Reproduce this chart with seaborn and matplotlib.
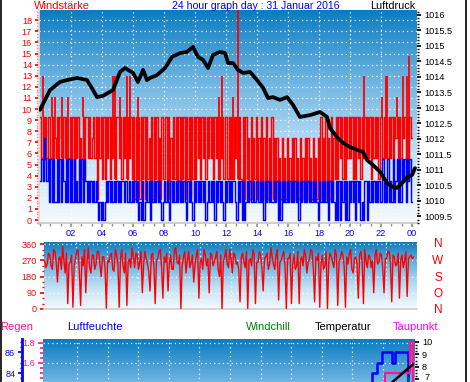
import numpy as np
import matplotlib
matplotlib.use("Agg")
import matplotlib.pyplot as plt
import seaborn as sns
from matplotlib.colors import LinearSegmentedColormap
from matplotlib.ticker import MultipleLocator

# ---------------- data ----------------
# wind speed levels (km/h steps) and 5-minute level codes, one string per hour
red_levels = [0, 1.85, 3.7, 5.55, 7.4, 9.25, 11.1, 12.95, 14.8]
blue_levels = [0, 1.6, 3.55, 5.5, 7.4]
gust_codes = ["535453553534", "353543535335", "352535342535", "535345351535",
              "252535253525", "535253525352", "515251525152", "415152514152",
              "251514252515", "152515251525", "253525352535", "352535253525",
              "525252535252", "151524151425", "141514151415", "141413141314",
              "131414131413", "141413141314", "151415141514", "252535252535",
              "352525352535", "353525353525", "535353535354", "535354535354"]
wind_codes = ["232432313131", "131313213131", "313121313132", "121212121010",
              "101212121212", "121221211212", "121201020121", "202121212101",
              "212102121212", "121210212102", "121212120121", "212021212102",
              "121212210212", "020121211212", "212120212121", "121202021212",
              "121212120212", "121212121210", "212121202121", "020202120202",
              "121202120102", "202121212121", "131213121312", "313132313231"]
gust_spike_h = [0.19, 0.77, 0.97, 1.42, 1.8, 2.77, 4.74, 4.87, 5.16, 5.6, 5.8, 6.3, 11.55, 11.74,
                12.45, 12.77, 20.9, 22.06, 22.3, 22.4, 23.03, 23.4, 23.65, 23.8]
gust_spike_v = [12.95, 11.1, 11.1, 11.1, 11.1, 11.1, 12.95, 12.95, 11.1, 12.95, 12.95, 11.1, 11.1,
                12.95, 11.1, 19.5, 12.95, 11.1, 12.95, 12.95, 11.1, 12.95, 12.95, 14.8]

# air pressure (hour, hPa)
p_hours = [0.00, 0.32, 0.65, 1.29, 1.74, 2.39, 3.03, 3.42, 3.68, 4.06,
           4.71, 5.16, 5.48, 6.00, 6.32, 6.65, 6.90, 7.10, 7.55, 8.06,
           8.52, 9.03, 9.48, 9.87, 10.19, 10.52, 10.84, 11.16, 11.61, 11.94,
           12.13, 12.45, 12.77, 13.10, 13.55, 14.00, 14.39, 14.71, 15.03, 15.48,
           15.94, 16.32, 16.77, 17.42, 18.06, 18.52, 18.71, 19.16, 19.55, 20.00,
           20.45, 20.84, 21.10, 21.48, 21.94, 22.39, 22.77, 23.03, 23.42, 23.68,
           24.00, 24.19]
p_vals = [1012.94, 1013.26, 1013.58, 1013.84, 1013.90, 1013.97, 1013.90, 1013.58, 1013.35, 1013.39,
          1013.58, 1014.16, 1014.29, 1014.13, 1013.84, 1014.23, 1013.90, 1013.97, 1014.06, 1014.29,
          1014.65, 1014.77, 1014.81, 1014.97, 1014.65, 1014.55, 1014.29, 1014.71, 1014.81, 1014.77,
          1014.45, 1014.45, 1014.23, 1014.13, 1014.16, 1013.90, 1013.65, 1013.32, 1013.35, 1013.26,
          1013.35, 1013.10, 1012.71, 1012.77, 1012.87, 1012.71, 1012.35, 1012.06, 1011.87, 1011.74,
          1011.65, 1011.58, 1011.32, 1011.16, 1010.94, 1010.58, 1010.45, 1010.42, 1010.61, 1010.77,
          1010.84, 1011.06]

# wind direction (degrees), 5-minute samples from about 00:20
dir_vals = [270, 230, 250, 310, 300, 240, 220, 330, 320, 260, 150, 280, 290, 220, 350, 270,
            200, 310, 30, 250, 260, 300, 10, 240, 280, 320, 330, 210, 20, 290, 240, 330,
            90, 260, 340, 230, 200, 300, 300, 220, 250, 320, 320, 250, 180, 290, 290, 230,
            5, 270, 260, 300, 310, 220, 210, 330, 300, 250, 10, 280, 330, 240, 200, 310,
            20, 260, 280, 230, 340, 290, 230, 310, 300, 220, 260, 320, 90, 250, 320, 280,
            250, 210, 100, 300, 310, 240, 30, 270, 280, 320, 330, 230, 60, 290, 260, 310,
            100, 250, 300, 220, 220, 330, 340, 260, 250, 300, 0, 240, 290, 320, 200, 270,
            320, 230, 260, 300, 150, 250, 300, 330, 60, 260, 280, 220, 330, 300, 240, 280,
            90, 310, 300, 240, 260, 290, 320, 220, 180, 300, 0, 260, 290, 330, 250, 230,
            330, 280, 200, 310, 300, 250, 260, 220, 40, 290, 310, 260, 230, 320, 0, 270,
            280, 240, 330, 300, 30, 260, 260, 320, 300, 230, 100, 280, 290, 310, 220, 250,
            340, 290, 250, 220, 300, 330, 50, 260, 270, 300, 320, 240, 0, 280, 280, 310,
            30, 250, 300, 220, 240, 320, 30, 270, 290, 240, 330, 300, 200, 260, 280, 330,
            320, 230, 40, 290, 270, 310, 10, 250, 300, 220, 240, 320, 0, 260, 310, 290,
            260, 230, 330, 300, 20, 270, 280, 320, 300, 240, 10, 290, 250, 310, 330, 220,
            200, 280, 290, 250, 60, 300, 320, 260, 30, 330, 270, 230, 300, 290, 230, 270,
            90, 300, 330, 250, 260, 310, 300, 230, 90, 280, 280, 320, 320, 260, 40, 300,
            290, 240, 250, 310, 60, 270, 300, 230, 270, 320, 70, 280, 290, 300, 280, 290]

# bottom panel (visible top part only)
hum_h = [21.27, 21.27, 21.6, 21.6, 21.93, 21.93, 22.59, 22.59, 22.78, 22.78, 23.63, 23.63]
hum_v = [80.0, 84.0, 84.0, 85.0, 85.0, 86.0, 86.0, 85.0, 85.0, 86.0, 86.0, 80.0]
dew_h = [22.13, 22.13, 23.76, 23.76, 23.96, 23.96]
dew_v = [5.0, 7.5, 7.5, 10.0, 10.0, 5.0]
temp_h = [22.46, 23.2, 23.96]
temp_v = [6.6, 7.4, 8.2]
chill_h = [23.7, 23.7]
chill_v = [6.6, 7.1]

x_labels = ["02", "04", "06", "08", "10", "12", "14", "16", "18", "20", "22", "00"]
dir_labels = ["N", "W", "S", "O", "N"]

# ---------------- figure ----------------
sns.set_theme(style="white")
plt.rcParams["font.family"] = ["Liberation Sans", "DejaVu Sans"]
W, H = 470, 382
fig = plt.figure(figsize=(W / 100, H / 100), dpi=100)
fig.patch.set_facecolor("white")

def ax_px(x0, y0, x1, y1):
    return fig.add_axes([x0 / W, 1 - y1 / H, (x1 - x0) / W, (y1 - y0) / H])

sky = LinearSegmentedColormap.from_list("sky", ["#f6fafd", "#bfe0f4", "#6fb5e2", "#0b7cc0"])
grad = np.linspace(0, 1, 256).reshape(-1, 1)

def background(ax):
    ax.imshow(grad, cmap=sky, origin="lower", extent=[0, 1, 0, 1], transform=ax.transAxes,
              aspect="auto", zorder=0, interpolation="bilinear")

def dotted_grid(ax, xs, ys):
    for x in xs:
        ax.axvline(x, color="white", lw=0.9, ls=(0, (1, 2.5)), zorder=1, alpha=0.9)
    for y in ys:
        ax.axhline(y, color="white", lw=0.9, ls=(0, (1, 2.5)), zorder=1, alpha=0.9)

RED = "#ff0000"
BLUE = "#0000ff"
PINK = "#ff1493"
GRAY = "#c8c8c8"
FS = 6.6

# ---------- top panel ----------
ax1 = ax_px(39, 10, 417, 223)
background(ax1)
ax1.set_xlim(-0.065, 24.32)
ax1.set_ylim(-0.27, 18.92)
dotted_grid(ax1, np.arange(2, 24, 2), np.arange(1, 19, 1))

gust = [red_levels[int(c)] for s in gust_codes for c in s]
wind = [blue_levels[int(c)] for s in wind_codes for c in s]
t5 = np.arange(len(gust) + 1) / 12.0
base = [gust[min(int(h * 12), len(gust) - 1)] for h in gust_spike_h]
ax1.vlines(gust_spike_h, base, gust_spike_v, color=RED, lw=1.3, zorder=2)
sns.lineplot(x=t5, y=gust + [gust[-1]], ax=ax1, color=RED, lw=1.05, drawstyle="steps-post",
             estimator=None, zorder=2)
sns.lineplot(x=t5, y=wind + [wind[-1]], ax=ax1, color=BLUE, lw=1.05, drawstyle="steps-post",
             estimator=None, zorder=3)

ax1.spines["left"].set_color("#e0e0e0")
for s in ["top", "right"]:
    ax1.spines[s].set_visible(False)
ax1.spines["bottom"].set_color(GRAY)
ax1.set_xticks(np.arange(2, 25, 2))
ax1.set_xticklabels(x_labels, color=BLUE, fontsize=FS)
ax1.xaxis.set_minor_locator(MultipleLocator(2 / 3))
ax1.tick_params(axis="x", which="major", length=3, color="#909090", pad=1.5, bottom=True)
ax1.tick_params(axis="x", which="minor", length=2, color="#909090", bottom=True)
ax1.set_yticks(np.arange(0, 19, 1))
ax1.yaxis.set_minor_locator(MultipleLocator(0.25))
ax1.tick_params(axis="y", which="major", length=3, color=RED, labelcolor=RED, labelsize=FS, pad=2, left=True)
ax1.tick_params(axis="y", which="minor", length=1.5, color=RED, left=True)
ax1.set_xlabel("")
ax1.set_ylabel("")

ax1r = ax1.twinx()
ax1r.set_ylim(1009.29, 1016.16)
sns.lineplot(x=p_hours, y=p_vals, ax=ax1r, color="black", lw=2.7, estimator=None, zorder=5)
for s in ["top", "right", "left", "bottom"]:
    ax1r.spines[s].set_visible(False)
ax1r.set_yticks(np.arange(1009.5, 1016.01, 0.5))
ax1r.set_yticklabels([f"{v:g}" for v in np.arange(1009.5, 1016.01, 0.5)])
ax1r.yaxis.set_minor_locator(MultipleLocator(0.1))
ax1r.tick_params(axis="y", which="major", length=3, color="black", labelcolor="black", labelsize=FS, pad=2, right=True)
ax1r.tick_params(axis="y", which="minor", length=1.5, color="black", right=True)
ax1r.set_ylabel("")

fig.text(34 / W, 1 - 6 / H, "Windstärke", color=RED, fontsize=8, va="center", ha="left")
fig.text(256 / W, 1 - 6 / H, "24 hour graph day : 31 Januar 2016", color=BLUE, fontsize=7.6, va="center", ha="center")
fig.text(393 / W, 1 - 6 / H, "Luftdruck", color="black", fontsize=7.8, va="center", ha="center")

# ---------- middle panel ----------
ax2 = ax_px(44, 242, 417, 309)
background(ax2)
ax2.set_xlim(0.26, 24.32)
ax2.set_ylim(0, 372)
dotted_grid(ax2, np.arange(2.35, 24, 2), [90, 180, 270, 362])
t_dir = np.linspace(0.3, 24.1, len(dir_vals))
sns.lineplot(x=t_dir, y=dir_vals, ax=ax2, color=RED, lw=1.0, estimator=None, zorder=3)
for s in ["top", "right", "left"]:
    ax2.spines[s].set_visible(False)
ax2.spines["bottom"].set_color("#d0d0d0")
ax2.set_xticks([])
ax2.set_yticks([0, 90, 180, 270, 360])
ax2.yaxis.set_minor_locator(MultipleLocator(30))
ax2.tick_params(axis="y", which="major", length=3, color=RED, labelcolor=RED, labelsize=FS, pad=2, left=True)
ax2.tick_params(axis="y", which="minor", length=1.5, color=RED, left=True)
ax2.set_ylabel("")
for lab, y in zip(dir_labels, [244, 261, 278, 294, 310]):
    fig.text(438 / W, 1 - y / H, lab, color=RED, fontsize=8.5, ha="center", va="center")

# ---------- bottom panel ----------
ax3 = ax_px(43, 339, 415, 466)
background(ax3)
ax3.set_xlim(-0.22, 24.09)
ax3.set_ylim(0.57, 1.84)
dotted_grid(ax3, np.arange(2.0, 24, 2), [1.6, 1.8])
for s in ["top", "right", "bottom", "left"]:
    ax3.spines[s].set_visible(False)
ax3.set_yticks([1.6, 1.8])
ax3.yaxis.set_minor_locator(MultipleLocator(0.05))
ax3.tick_params(axis="y", which="major", length=3.5, width=1.2, color=PINK, labelcolor=PINK, labelsize=FS, pad=2, left=True)
ax3.tick_params(axis="y", which="minor", length=2, width=1.2, color=PINK, left=True)
ax3.set_xticks([])

ax3h = ax3.twinx()
ax3h.set_ylim(75.14, 87.24)
ax3h.yaxis.set_label_position("left")
ax3h.yaxis.tick_left()
for s in ["top", "right", "bottom"]:
    ax3h.spines[s].set_visible(False)
ax3h.spines["left"].set_position(("outward", 15))
ax3h.spines["left"].set_color(BLUE)
ax3h.spines["left"].set_linewidth(2)
ax3h.set_yticks([84, 86])
ax3h.yaxis.set_minor_locator(MultipleLocator(0.5))
ax3h.tick_params(axis="y", which="major", length=3, color=BLUE, labelcolor=BLUE, labelsize=FS, pad=2, left=True, right=False)
ax3h.tick_params(axis="y", which="minor", length=1.5, color=BLUE, left=True, right=False)
sns.lineplot(x=hum_h, y=hum_v, ax=ax3h, color=BLUE, lw=1.8, sort=False, estimator=None, zorder=3)
ax3h.set_ylabel("")

ax3t = ax3.twinx()
ax3t.set_ylim(0.0, 10.24)
for s in ["top", "left", "bottom", "right"]:
    ax3t.spines[s].set_visible(False)
ax3t.set_yticks([7, 8, 9, 10])
ax3t.set_yticklabels(["", "8", "9", "10"])
ax3t.yaxis.set_minor_locator(MultipleLocator(0.25))
ax3t.tick_params(axis="y", which="major", length=3, color="black", labelcolor="black", labelsize=FS, pad=2, right=True)
ax3t.tick_params(axis="y", which="minor", length=1.5, color="black", right=True)
ax3t.text(1.0, 7.12, "    7", transform=ax3t.get_yaxis_transform(), color="black", fontsize=FS,
          va="center", ha="left")
sns.lineplot(x=dew_h, y=dew_v, ax=ax3t, color=PINK, lw=1.6, sort=False, estimator=None, zorder=4)
sns.lineplot(x=temp_h, y=temp_v, ax=ax3t, color="black", lw=1.8, sort=False, estimator=None, zorder=5)
sns.lineplot(x=chill_h, y=chill_v, ax=ax3t, color="green", lw=1.2, sort=False, estimator=None, zorder=6)
ax3t.set_ylabel("")

for txt, x, c in [("Regen", 0, PINK), ("Luftfeuchte", 67, BLUE), ("Windchill", 246, "green"),
                  ("Temperatur", 315, "black"), ("Taupunkt", 393, "#ff00ff")]:
    fig.text(x / W, 1 - 327 / H, txt, color=c, fontsize=8, ha="left", va="center")

fig.add_artist(plt.Line2D([0.5 / W, 0.5 / W], [0, 1], color="black", lw=1.2, transform=fig.transFigure))
fig.add_artist(plt.Line2D([466 / W, 466 / W], [0, 1], color="black", lw=1.2, transform=fig.transFigure))

fig.savefig("out.png", dpi=100)
